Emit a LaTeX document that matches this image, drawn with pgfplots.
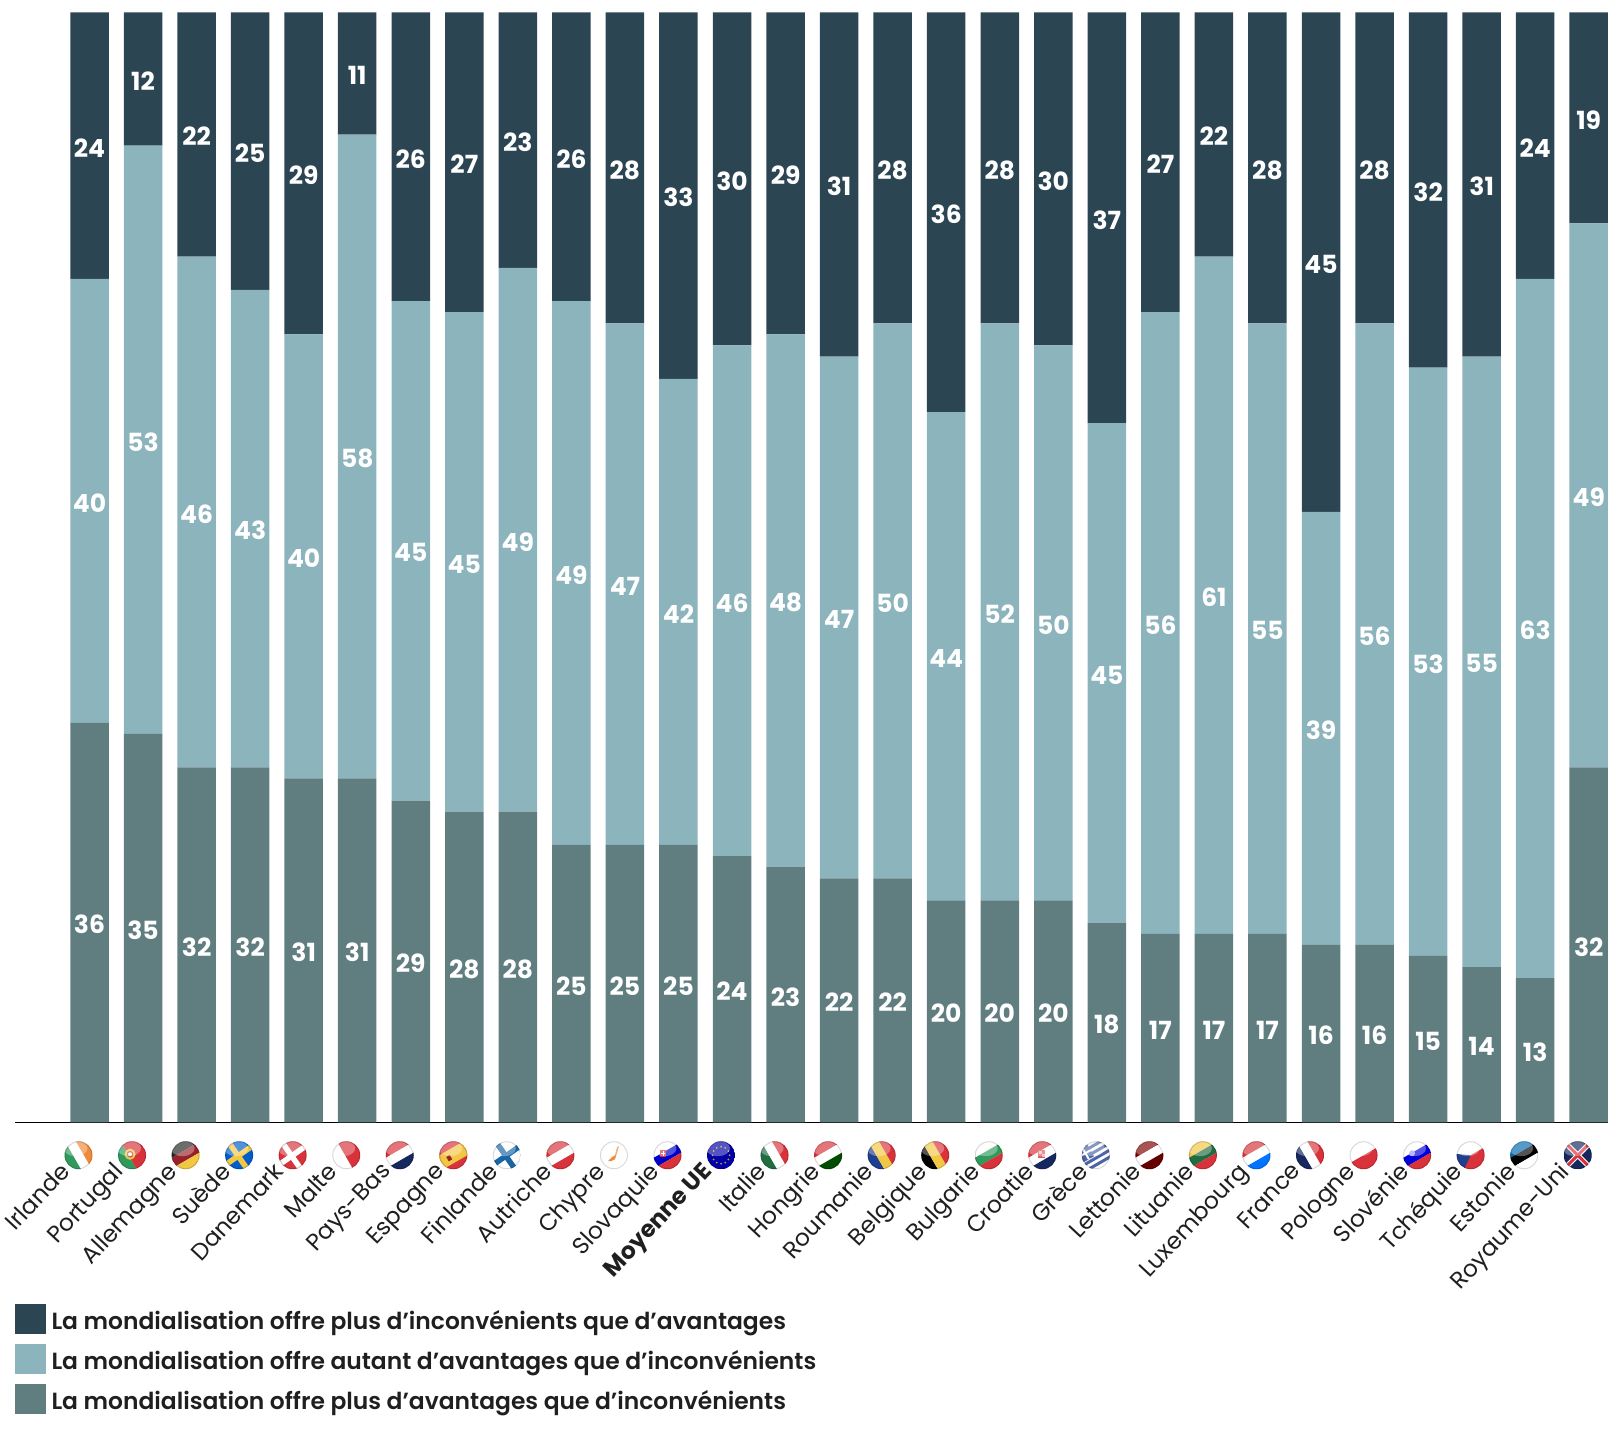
\documentclass[border=0pt]{standalone}
\usepackage{fontspec}
\setmainfont{Poppins}
\newfontfamily\medfont{Poppins SemiBold}
\usepackage{pgfplots}
\usepackage{pgfplotstable}
\pgfplotsset{compat=1.18}

\definecolor{cdark}{HTML}{2B4552}
\definecolor{clight}{HTML}{8CB4BD}
\definecolor{cgray}{HTML}{607D80}
% flag colours
\definecolor{fred}{HTML}{D8323A}
\definecolor{fblue}{HTML}{1F3F8F}
\definecolor{fgreen}{HTML}{2F9A5C}
\definecolor{fyel}{HTML}{F2C744}
\definecolor{fora}{HTML}{EF8A3A}
\definecolor{fnavy}{HTML}{16285E}

\pgfplotstableread{
i a b c
0 36 40 24
1 35 53 12
2 32 46 22
3 32 43 25
4 31 40 29
5 31 58 11
6 29 45 26
7 28 45 27
8 28 49 23
9 25 49 26
10 25 47 28
11 25 42 33
12 24 46 30
13 23 48 29
14 22 47 31
15 22 50 28
16 20 44 36
17 20 52 28
18 20 50 30
19 18 45 37
20 17 56 27
21 17 61 22
22 17 55 28
23 16 39 45
24 16 56 28
25 15 53 32
26 14 55 31
27 13 63 24
28 32 49 19
}\data

% round flags under the axis
\newcommand\ball[2]{%
  \begin{scope}[shift={(f#1)},xshift=-11pt,x=1pt,y=1pt]
    \clip (0,0) circle (14);
    #2
    \fill[white,opacity=.33] (-3,7) ellipse (12 and 8);
    \draw[black,opacity=.15,line width=1.2pt] (0,0) circle (13.6);
  \end{scope}}
\newcommand\hb[3]{\begin{scope}[rotate=30]
  \fill[#1] (-20,4.67) rectangle (20,20);
  \fill[#2] (-20,-4.67) rectangle (20,4.67);
  \fill[#3] (-20,-20) rectangle (20,-4.67);\end{scope}}
\newcommand\vb[3]{\begin{scope}[rotate=30]
  \fill[#1] (-20,-20) rectangle (-4.67,20);
  \fill[#2] (-4.67,-20) rectangle (4.67,20);
  \fill[#3] (4.67,-20) rectangle (20,20);\end{scope}}
\newcommand\crossf[3]{\begin{scope}[rotate=35]
  \fill[#1] (-20,-20) rectangle (20,20);
  \fill[#2] (-4,-20) rectangle (1.5,20);
  \fill[#2] (-20,-2.75) rectangle (20,2.75);
  #3\end{scope}}

\begin{document}
\begin{tikzpicture}[x=1pt,y=1pt]
\useasboundingbox (0,0) rectangle (1618,1430);
\begin{axis}[
    name=main,
    at={(15.3pt,307.5pt)},
    anchor=south west,
    scale only axis,
    width=1592.7pt,
    height=1110pt,
    ybar stacked,
    bar width=38.5pt,
    xmin=-1.386, xmax=28.36,
    ymin=0, ymax=100,
    axis x line*=bottom,
    axis y line=none,
    axis line style={black,line width=1.5pt,-},
    xtick=data,
    major tick length=0pt,
    xticklabels={Irlande,Portugal,Allemagne,Suède,Danemark,Malte,Pays-Bas,Espagne,Finlande,Autriche,Chypre,Slovaquie,\textbf{Moyenne UE},Italie,Hongrie,Roumanie,Belgique,Bulgarie,Croatie,Grèce,Lettonie,Lituanie,Luxembourg,France,Pologne,Slovénie,Tchéquie,Estonie,Royaume-Uni},
    xticklabel style={rotate=47,anchor=north east,inner sep=0pt,
        xshift=-49pt,yshift=-3pt,
        font=\fontsize{23.4}{25}\selectfont,text=black!88},
    nodes near coords,
    point meta=rawy,
    /pgf/number format/assume math mode=true,
    /pgf/number format/precision=0,
    every node near coord/.append style={
        anchor=center,text=white,inner sep=0pt,
        yshift=-2pt,
        font=\fontsize{25}{25}\bfseries\selectfont},
    legend style={
        at={(axis description cs:0,-0.1635)},
        anchor=north west,draw=none,fill=none,inner sep=0pt,
        row sep=10pt,
        nodes={inner ysep=0pt,inner xsep=0pt,anchor=west,
            text height=25pt,text depth=3.5pt,
            font=\fontsize{23.4}{26}\medfont\selectfont,text=black!88},
        },
    legend cell align=left,
    reverse legend,
    legend image code/.code={\fill[#1,draw=none] (0pt,-15pt) rectangle (30.7pt,15pt);\path (36pt,0pt);},
]
\addplot[draw=none,fill=cgray] table[x=i,y=a]{\data};
\addplot[draw=none,fill=clight] table[x=i,y=b]{\data};
\addplot[draw=none,fill=cdark] table[x=i,y=c]{\data};
\legend{La mondialisation offre plus d’avantages que d’inconvénients,
        La mondialisation offre autant d’avantages que d’inconvénients,
        La mondialisation offre plus d’inconvénients que d’avantages}
\pgfplotsinvokeforeach{0,...,28}{\coordinate (f#1) at (axis cs:#1,-2.95);}
\end{axis}

\ball{0}{\vb{fgreen}{white}{fora}}
\ball{1}{\begin{scope}[rotate=30]\fill[fgreen] (-20,-20) rectangle (-3,20);\fill[fred] (-3,-20) rectangle (20,20);\end{scope}
  \draw[fyel,line width=2pt] (-2,1) circle (4.5);\fill[white] (-2,1) circle (2);}
\ball{2}{\hb{black!85}{fred!70!black}{fyel}}
\ball{3}{\crossf{blue!55!cyan!80!black}{fyel}{}}
\ball{4}{\crossf{fred}{white}{}}
\ball{5}{\begin{scope}[rotate=30]\fill[white] (-20,-20) rectangle (-1,20);\fill[fred] (-1,-20) rectangle (20,20);\end{scope}}
\ball{6}{\hb{fred}{white}{fnavy}}
\ball{7}{\begin{scope}[rotate=30]\fill[fred] (-20,-20) rectangle (20,20);\fill[fyel] (-20,-7) rectangle (20,7);\fill[fred!70!black] (-7,-3) rectangle (-3,2);\end{scope}}
\ball{8}{\crossf{white}{fblue!80!cyan}{}}
\ball{9}{\hb{fred}{white}{fred}}
\ball{10}{\fill[white] (-14,-14) rectangle (14,14);\fill[fora] (-6,-6) -- (-2,-2) -- (1,0) -- (3,8) -- (5,9) -- (3,2) -- (1,-4) -- (-3,-6) -- cycle;}
\ball{11}{\hb{white}{blue!80!black}{fred}\fill[fred] (-7,-2) rectangle (-1,5);\fill[white] (-4.5,-1) rectangle (-3.5,4);\fill[white] (-6,1.5) rectangle (-2,2.5);}
\ball{12}{\fill[blue!65!black] (-14,-14) rectangle (14,14);
  \foreach \a in {0,30,...,330}{\fill[fyel!80!black] (\a:8.5) circle (1);}}
\ball{13}{\vb{fgreen!70!black}{white}{fred}}
\ball{14}{\hb{fred}{white}{green!30!black}}
\ball{15}{\vb{fblue}{fyel}{fred}}
\ball{16}{\vb{black}{fyel}{fred}}
\ball{17}{\hb{white}{fgreen}{fred}}
\ball{18}{\hb{fred}{white}{fnavy}\fill[fred!80] (-4,-3) rectangle (3,5);\fill[white,opacity=.6] (-3,1) rectangle (0,4);\fill[white,opacity=.6] (0,-2) rectangle (3,1);}
\ball{19}{\fill[white] (-14,-14) rectangle (14,14);
  \begin{scope}[rotate=30]\foreach \k in {-10,-4,2,8}{\fill[fblue!80] (-20,\k) rectangle (20,\k+3);}
  \fill[fblue!80] (-14,0) rectangle (-2,14);\fill[white] (-9,0) rectangle (-7,14);\fill[white] (-14,6) rectangle (-2,8);\end{scope}}
\ball{20}{\hb{red!50!black}{white}{red!40!black}}
\ball{21}{\hb{fyel}{fgreen!70!black}{fred}}
\ball{22}{\hb{fred}{white}{blue!55!cyan}}
\ball{23}{\vb{fnavy}{white}{fred}}
\ball{24}{\begin{scope}[rotate=30]\fill[white] (-20,0) rectangle (20,20);\fill[fred] (-20,-20) rectangle (20,0);\end{scope}}
\ball{25}{\hb{white}{blue!85!black}{fred}\fill[blue!40] (-5,2) circle (3);}
\ball{26}{\begin{scope}[rotate=30]\fill[white] (-20,0) rectangle (20,20);\fill[fred] (-20,-20) rectangle (20,0);\fill[fblue] (-20,14) -- (0,0) -- (-20,-14) -- cycle;\end{scope}}
\ball{27}{\hb{blue!40!cyan!70!black}{black}{white}}
\ball{28}{\fill[fnavy] (-14,-14) rectangle (14,14);
  \draw[white,line width=5pt] (-14,-14) -- (14,14) (-14,14) -- (14,-14);
  \draw[fred,line width=3pt] (-14,-14) -- (14,14) (-14,14) -- (14,-14);}
\end{tikzpicture}
\end{document}
